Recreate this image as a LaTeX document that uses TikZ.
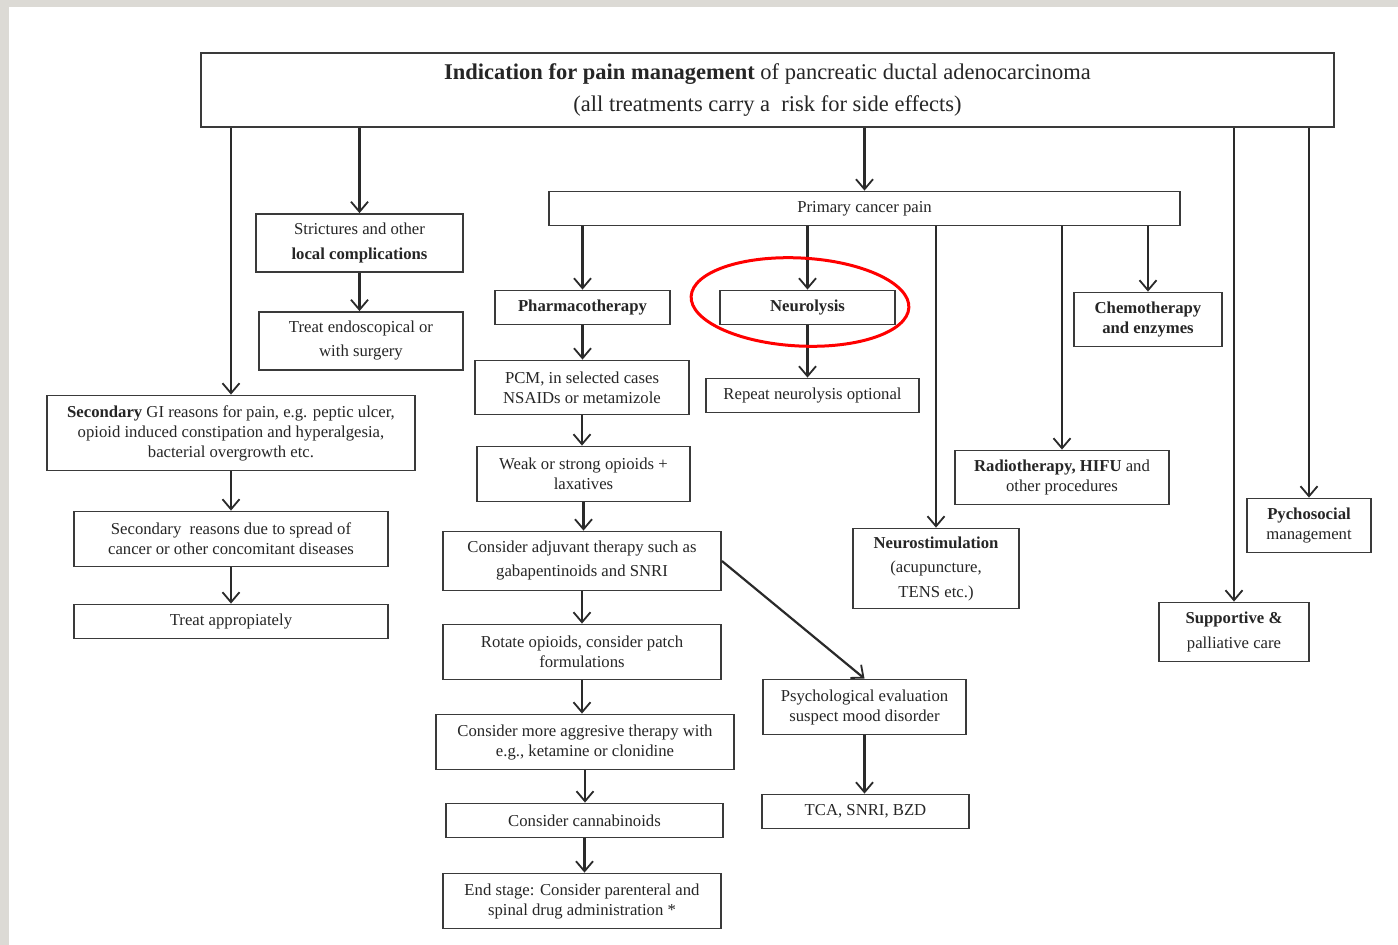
\documentclass[tikz,border=0pt]{standalone}
\usepackage{fontspec}
\setmainfont{Liberation Serif}
\usetikzlibrary{arrows.meta}
\definecolor{edge}{HTML}{2A2A2A}
\definecolor{boxline}{HTML}{3A3A3A}
\definecolor{frame}{HTML}{DCDAD5}
\tikzset{
  box/.style={draw=boxline, line width=1.8pt, fill=white, inner sep=0pt, align=center,
    font=\fontsize{16.7}{20}\selectfont, text=black!85},
  arr/.style={draw=edge, line width=2.2pt, -{Straight Barb[length=10pt,width=17pt,line width=1.8pt]}},
}
\begin{document}
\begin{tikzpicture}[x=1pt,y=-1pt]
\useasboundingbox (0,0) rectangle (1398,945);
\fill[white] (0,0) rectangle (1398,945);
\fill[frame] (0,0) rectangle (1398,7);
\fill[frame] (0,0) rectangle (9,945);

% nodes
\node[box, minimum width=1133pt, minimum height=74pt, font=\fontsize{22.5}{32}\selectfont] (title) at (767.5,90)
  {\textbf{Indication for pain management} of pancreatic ductal adenocarcinoma\\(all treatments carry a \ risk for side effects)};
\node[box, minimum width=207pt, minimum height=58pt, font=\fontsize{16.7}{25}\selectfont] (stric) at (359.5,243) {Strictures and other\\\textbf{local complications}};
\node[box, minimum width=204pt, minimum height=58pt, font=\fontsize{16.7}{24}\selectfont] (endo) at (361,341) {Treat endoscopical or\\with surgery};
\node[box, minimum width=368pt, minimum height=75pt] (secgi) at (231,433) {\textbf{Secondary} GI reasons for pain, e.g. peptic ulcer,\\opioid induced constipation and hyperalgesia,\\bacterial overgrowth etc.};
\node[box, minimum width=314pt, minimum height=55pt] (secre) at (231,539) {Secondary \ reasons due to spread of\\cancer or other concomitant diseases};
\node[box, minimum width=314pt, minimum height=34pt] (treat) at (231,621.5) {Treat appropiately};

\node[box, minimum width=631pt, minimum height=34pt] (prim) at (864.5,208.5) {Primary cancer pain};
\node[box, minimum width=175pt, minimum height=34pt] (pharm) at (582.5,307.5) {\textbf{Pharmacotherapy}};
\node[box, minimum width=214pt, minimum height=54pt] (pcm) at (582,387.5) {PCM, in selected cases\\NSAIDs or metamizole};
\node[box, minimum width=213pt, minimum height=55pt] (weak) at (583.5,474) {Weak or strong opioids +\\laxatives};
\node[box, minimum width=278pt, minimum height=59pt, font=\fontsize{16.7}{24}\selectfont] (adj) at (582,561) {Consider adjuvant therapy such as\\gabapentinoids and SNRI};
\node[box, minimum width=278pt, minimum height=55pt] (rot) at (582,652) {Rotate opioids, consider patch\\formulations};
\node[box, minimum width=298pt, minimum height=55pt] (aggr) at (585,742) {Consider more aggresive therapy with\\e.g., ketamine or clonidine};
\node[box, minimum width=277pt, minimum height=34pt] (cann) at (584.5,820.5) {Consider cannabinoids};
\node[box, minimum width=278pt, minimum height=55pt] (endst) at (582,901) {End stage: Consider parenteral and\\spinal drug administration *};

\node[box, minimum width=175pt, minimum height=34pt] (neuro) at (807.5,307.5) {\textbf{Neurolysis}};
\node[box, minimum width=213pt, minimum height=34pt] (repeat) at (812.5,395.5) {Repeat neurolysis optional};
\node[box, minimum width=148pt, minimum height=54pt] (chemo) at (1148,319.5) {\textbf{Chemotherapy}\\\textbf{and enzymes}};
\node[box, minimum width=214pt, minimum height=54pt] (radio) at (1062,477.5) {\textbf{Radiotherapy, HIFU} and\\other procedures};
\node[box, minimum width=166pt, minimum height=80pt, font=\fontsize{16.7}{24.5}\selectfont] (nstim) at (936,568.5) {\textbf{Neurostimulation}\\(acupuncture,\\TENS etc.)};
\node[box, minimum width=203pt, minimum height=55pt] (psych) at (864.5,707) {Psychological evaluation\\suspect mood disorder};
\node[box, minimum width=207pt, minimum height=34pt] (tca) at (865.5,811.5) {TCA, SNRI, BZD};
\node[box, minimum width=124pt, minimum height=54pt] (pycho) at (1309,525.5) {\textbf{Pychosocial}\\management};
\node[box, minimum width=150pt, minimum height=59pt, font=\fontsize{16.7}{25}\selectfont] (supp) at (1234,632) {\textbf{Supportive \&}\\palliative care};

% connectors from title
\draw[arr] (title.south -| secgi.north) -- (secgi.north);
\draw[arr] (title.south -| stric.north) -- (stric.north);
\draw[arr] (title.south -| prim.north) -- (prim.north);
\draw[arr] (title.south -| supp.north) -- (supp.north);
\draw[arr] (title.south -| pycho.north) -- (pycho.north);

% left column
\draw[arr] (stric.south) -- (stric.south |- endo.north);
\draw[arr] (secgi.south) -- (secre.north);
\draw[arr] (secre.south) -- (treat.north);

% from primary cancer pain
\draw[arr] (prim.south -| pharm.north) -- (pharm.north);
\draw[arr] (prim.south -| neuro.north) -- (neuro.north);
\draw[arr] (prim.south -| nstim.north) -- (nstim.north);
\draw[arr] (prim.south -| radio.north) -- (radio.north);
\draw[arr] (prim.south -| chemo.north) -- (chemo.north);

% pharmacotherapy chain
\draw[arr] (pharm.south) -- (pharm.south |- pcm.north);
\draw[arr] (pcm.south) -- (pcm.south |- weak.north);
\draw[arr] (weak.south) -- (weak.south |- adj.north);
\draw[arr] (adj.south) -- (adj.south |- rot.north);
\draw[arr] (rot.south) -- (rot.south |- aggr.north);
\draw[arr] (aggr.south) -- (aggr.south |- cann.north);
\draw[arr] (cann.south) -- (cann.south |- endst.north);
\draw[arr] (adj.east) -- (psych.north);
\draw[arr] (psych.south) -- (psych.south |- tca.north);

% neurolysis
\draw[arr] (neuro.south) -- (neuro.south |- repeat.north);

% highlight
\draw[red, line width=3pt, rotate around={-3:(800,302)}] (800,302) ellipse [x radius=109, y radius=44];
\end{tikzpicture}
\end{document}
